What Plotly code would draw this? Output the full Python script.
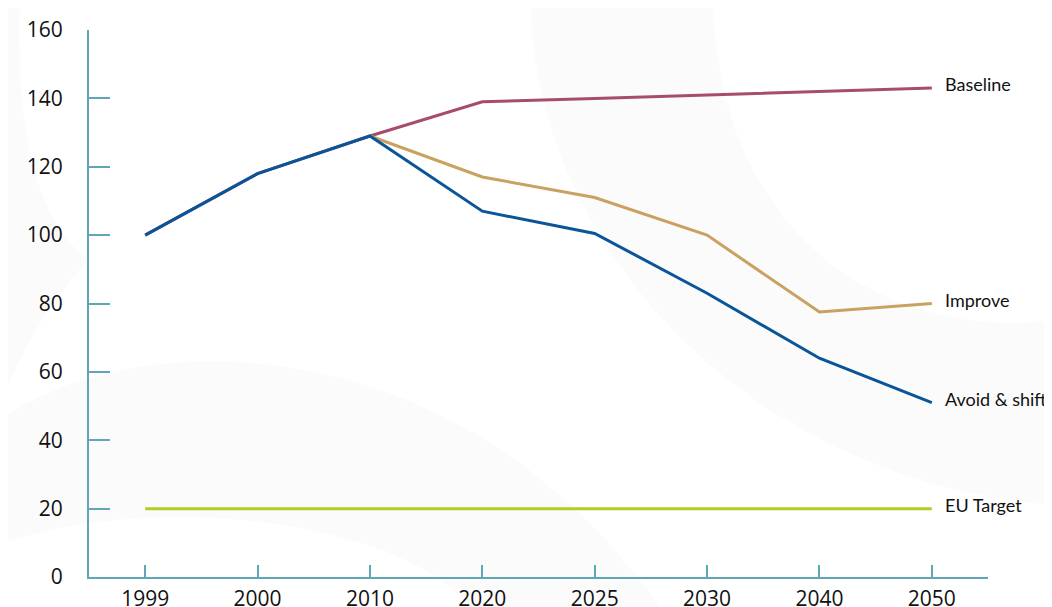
import plotly.graph_objects as go

years = ["1999", "2000", "2010", "2020", "2025", "2030", "2040", "2050"]
baseline = [100, 118, 129, 139, 140, 141, 142, 143]
improve = [None, None, 129, 117, 111, 100, 77.5, 80]
avoid_shift = [100, 118, 129, 107, 100.5, 83, 64, 51]
eu_target = [20, 20, 20, 20, 20, 20, 20, 20]

series = [
    ("Baseline", baseline, "#a84c6f"),
    ("Improve", improve, "#c9a160"),
    ("Avoid & shift", avoid_shift, "#0a5598"),
    ("EU Target", eu_target, "#b4cc22"),
]

axis_color = "#5fa7b6"
# page body has an 8px margin, so the figure starts at (8, 8)
OFF = 8
W, H = 1052 - OFF, 607 - OFF
L, T = 89 - OFF, 30 - OFF
pw, ph = 899, 547
R, B = W - L - pw, H - T - ph


def px(x, y):
    # screen pixel -> paper coordinates (decoration only)
    return f"{(x - OFF - L) / pw:.4f},{(T + ph - (y - OFF)) / ph:.4f}"


def path(cmds):
    out = []
    for c in cmds:
        letter, pts = c[0], c[1:]
        out.append(letter + " " + " ".join(px(*p) for p in pts))
    return " ".join(out) + " Z"


fig = go.Figure()

# faint decorative background swooshes
bg = "rgba(0,0,0,0.014)"
swooshes = [
    [("M", (530, 0)), ("C", (535, 250), (750, 480), (1052, 505)), ("L", (1052, 320)),
     ("C", (900, 340), (720, 250), (713, 0))],
    [("M", (0, 420)), ("C", (120, 330), (450, 310), (660, 607)), ("L", (470, 607)),
     ("C", (400, 520), (150, 490), (0, 545))],
    [("M", (0, 0)), ("L", (20, 0)), ("C", (15, 150), (45, 230), (90, 260)),
     ("C", (50, 300), (15, 360), (0, 410))],
]
for s in swooshes:
    fig.add_shape(type="path", xref="paper", yref="paper", path=path(s),
                  fillcolor=bg, line=dict(width=0), layer="below")

for name, vals, color in series:
    fig.add_trace(go.Scatter(x=years, y=vals, mode="lines", name=name,
                             line=dict(color=color, width=3), connectgaps=False))
    fig.add_annotation(x=7.5 / 8, y=vals[-1], text=name, xref="paper", yref="y",
                       xanchor="left", yanchor="middle", xshift=11, yshift=4,
                       showarrow=False, font=dict(family="Lato, Noto Sans", size=18, color="#111"))

fig.update_layout(
    width=W, height=H,
    margin=dict(l=L, r=R, t=T, b=B, autoexpand=False),
    paper_bgcolor="white", plot_bgcolor="rgba(0,0,0,0)",
    showlegend=False,
    font=dict(family="Open Sans, Liberation Sans", size=21, color="#111"),
    xaxis=dict(type="category", range=[-0.5, 7.5], showgrid=False, zeroline=False,
               automargin=False,
               showline=True, linecolor=axis_color, linewidth=2,
               ticks="inside", ticklen=12, tickwidth=2, tickcolor=axis_color,
               ticklabelstandoff=2, tickfont=dict(size=21)),
    yaxis=dict(range=[0, 160], dtick=20, showgrid=False, zeroline=False,
               automargin=False,
               showline=True, linecolor=axis_color, linewidth=2,
               ticks="inside", ticklen=21, tickwidth=2, tickcolor=axis_color,
               ticklabelstandoff=20, tickfont=dict(size=21)),
)
fig.write_html("out.html")
